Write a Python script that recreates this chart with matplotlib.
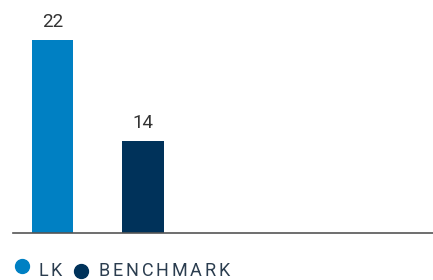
import matplotlib
matplotlib.use("Agg")
import matplotlib.pyplot as plt
from matplotlib.lines import Line2D

# data
categories = ["LK", "BENCHMARK"]
values = [22, 14]
colors = ["#0080c3", "#00325a"]
text_color = "#2b3d4f"

fig = plt.figure(figsize=(4.33, 2.8), dpi=100)
ax = fig.add_axes([13 / 433, 47 / 280, 420 / 433, 233 / 280])

x = list(range(len(values)))
bars = ax.bar(x, values, width=0.455, color=colors)
for xi, v in zip(x, values):
    ax.text(xi, v + 0.7, str(v), ha="center", va="bottom", fontsize=13.5,
            color="#333333", family="Roboto")

ax.set_xlim(-0.436, 4.204)
ax.set_ylim(6.7, 25.2)
for s in ["top", "right", "left"]:
    ax.spines[s].set_visible(False)
ax.spines["bottom"].set_color("#555555")
ax.spines["bottom"].set_linewidth(1.2)
ax.set_xticks([])
ax.set_yticks([])

# legend with letter spacing
W, H = 433, 280
renderer = fig.canvas.get_renderer()


def spaced_text(x0, y0, s, tracking=2.8, size=13):
    xpos = x0
    for ch in s:
        t = fig.text(xpos / W, 1 - y0 / H, ch, fontsize=size, color=text_color,
                     va="center", ha="left", family="Roboto")
        w = t.get_window_extent(renderer).width
        xpos += w + tracking
    return xpos


marker_pos = [(22, 265.5), (81, 271)]
text_pos = [38, 99]
for (mx, my), tx, label, c in zip(marker_pos, text_pos, categories, colors):
    fig.add_artist(Line2D([mx / W], [1 - my / H], marker="o", markersize=10,
                          color=c, linestyle="none", transform=fig.transFigure))
    spaced_text(tx, 271.5, label)

fig.savefig("out.png", dpi=100)
